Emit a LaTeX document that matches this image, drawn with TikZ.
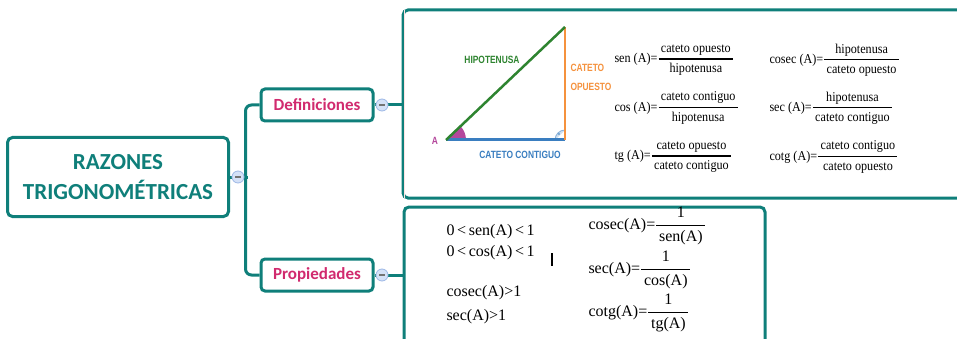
\documentclass[tikz,border=0pt]{standalone}
\usepackage{amsmath}
\usepackage{fontspec}
\setmainfont{Liberation Serif}
\newfontfamily\mapfont{Carlito}
\newfontfamily\narrowfont[FakeStretch=0.8]{Liberation Sans}
\newfontfamily\formfont[FakeStretch=0.9]{Liberation Serif}
\usetikzlibrary{backgrounds}
\definecolor{mapteal}{HTML}{0F7F7A}
\definecolor{mappink}{HTML}{D12A6E}
\definecolor{knobfill}{HTML}{D4E1F7}
\definecolor{knobline}{HTML}{9DB8E6}
\definecolor{hipgreen}{HTML}{2E8430}
\definecolor{opporange}{HTML}{F5923E}
\definecolor{adjblue}{HTML}{3A7EC0}
\definecolor{angpink}{HTML}{B4479C}
\newcommand{\razon}[2]{\(\genfrac{}{}{1.1pt}{0}{\text{\,#1\,}}{\text{\,#2\,}}\)}

\begin{document}
\begin{tikzpicture}[
    x=1pt, y=-1pt, line width=3pt,
    topic/.style={draw=mapteal,fill=white,rounded corners=5pt,align=center,text=mapteal,
        font=\mapfont\bfseries\fontsize{23}{30}\selectfont,minimum width=221pt,minimum height=79pt},
    sub/.style={draw=mapteal,fill=white,rounded corners=4pt,text=mappink,
        font=\mapfont\bfseries\fontsize{17}{20}\selectfont,minimum width=112pt,minimum height=32pt,inner sep=0pt},
    panel/.style={draw=mapteal,fill=white,rounded corners=5pt,inner sep=0pt},
    knob/.style={circle,draw=knobline,fill=knobfill,line width=0.8pt,minimum size=12pt,inner sep=0pt},
    link/.style={draw=mapteal,line width=3pt},
    tag/.style={font=\narrowfont\bfseries\fontsize{10.5}{19}\selectfont,inner sep=0pt},
    formula/.style={anchor=west,inner sep=0pt,font=\formfont\fontsize{13.5}{15}\selectfont},
    prop/.style={anchor=west,inner sep=0pt,font=\fontsize{16}{18}\selectfont}
]
\useasboundingbox (0,0) rectangle (957,339);

\node[topic] (root) at (118,177) {RAZONES\\TRIGONOMÉTRICAS};
\node[sub] (def) at (317,105) {Definiciones};
\node[sub] (pro) at (317,275) {Propiedades};
\node[panel,minimum width=572pt,minimum height=188pt] (defpanel) at (689,104) {};
\node[panel,minimum width=361pt,minimum height=153pt] (propanel) at (584.5,283.5) {};
\draw[pink!45,line width=1.5pt] ([xshift=3pt,yshift=-2pt]defpanel.north west) -- ([xshift=3pt,yshift=2pt]defpanel.south west);

\node[knob] (k0) at (238,177) {\color{black!55}\rule{6pt}{1.2pt}};
\node[knob] (k1) at (382,105) {\color{black!55}\rule{6pt}{1.2pt}};
\node[knob] (k2) at (382,275) {\color{black!55}\rule{6pt}{1.2pt}};
\coordinate (spine) at (248,177);

\begin{scope}[on background layer]
\draw[link] (root.east) -- (k0);
\draw[link] (k0) -- (spine);
\draw[link,rounded corners=6pt] (def.west) -- ++(-14,0) |- (pro.west);
\draw[link] (def.east) -- (k1);
\draw[link] (k1) -- (k1 -| defpanel.west);
\draw[link] (pro.east) -- (k2);
\draw[link] (k2) -- (k2 -| propanel.west);
\end{scope}

% triangulo rectangulo con sus lados
\coordinate (A) at (446,140);
\coordinate (B) at (565,140);
\coordinate (C) at (565,27);
\fill[angpink] (A) -- ++(20,0) arc[start angle=0,end angle=-43.5,radius=20] -- cycle;
\draw[adjblue!60,fill=adjblue!25,line width=0.8pt] (B) ++(-10,0) arc[start angle=180,end angle=270,radius=10];
\fill[adjblue] (559,134) circle (0.8);
\draw[adjblue,line width=3pt] (A) -- (B);
\draw[opporange,line width=2pt] (B) -- (C);
\draw[hipgreen,line width=2.5pt] (A) -- (C);
\node[tag,text=hipgreen] (thip) at (492,60) {HIPOTENUSA};
\node[tag,text=opporange,align=left,anchor=west] (topp) at (569,77) {CATETO\\OPUESTO};
\node[tag,text=adjblue] (tadj) at (520,155) {CATETO CONTIGUO};
\node[tag,text=angpink] (tA) at (435,141) {A};

\foreach \i/\x/\y/\lab/\num/\den in {
    1/613/60/{sen (A)=}/{cateto opuesto}/{hipotenusa},
    2/613/108/{cos (A)=}/{cateto contiguo}/{hipotenusa},
    3/613/157/{tg (A)=}/{cateto opuesto}/{cateto contiguo},
    4/768/60/{cosec (A)=}/{hipotenusa}/{cateto opuesto},
    5/768/108/{sec (A)=}/{hipotenusa}/{cateto contiguo},
    6/768/157/{cotg (A)=}/{cateto contiguo}/{cateto opuesto}} {
    \node[formula] (f\i) at (\x,\y) {\lab\razon{\num}{\den}};
}

\foreach \i/\y/\txt in {1/232/{0\,<\,sen(A)\,<\,1},2/253/{0\,<\,cos(A)\,<\,1},3/293/{cosec(A)>1},4/317/{sec(A)>1}} {
    \node[prop] (p\i) at (445,\y) {\txt};
}
\foreach \i/\y/\lab/\den in {5/226/{cosec(A)=}/{sen(A)},6/270/{sec(A)=}/{cos(A)},7/313/{cotg(A)=}/{tg(A)}} {
    \node[prop] (p\i) at (587,\y) {\lab\razon{1}{\den}};
}
\draw[black,line width=1.6pt] (552,253) -- (552,266);
\end{tikzpicture}
\end{document}
